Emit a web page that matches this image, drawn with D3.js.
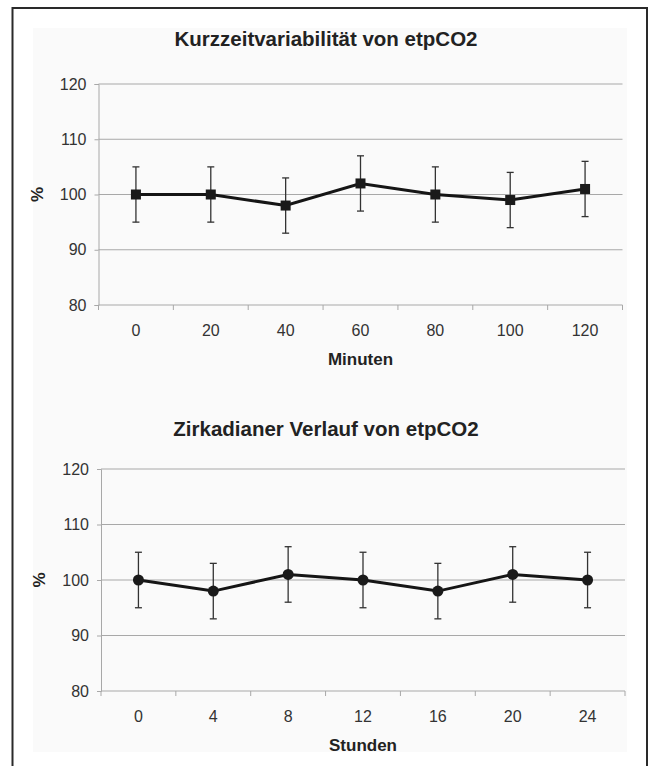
<!DOCTYPE html>
<html>
<head>
<meta charset="utf-8">
<script src="https://cdn.jsdelivr.net/npm/d3@7/dist/d3.min.js"></script>
<style>
  html, body { margin: 0; padding: 0; background: #ffffff; }
  svg { display: block; font-family: "Liberation Sans", Arial, sans-serif; }
</style>
</head>
<body>
<svg id="chart" width="653" height="766"></svg>
<script>
// Short-term variability (minutes)
const minutenCategories = ["0", "20", "40", "60", "80", "100", "120"];
const minutenMean = [100, 100, 98, 102, 100, 99, 101];
const minutenSD = [5, 5, 5, 5, 5, 5, 5];

// Circadian course (hours)
const stundenCategories = ["0", "4", "8", "12", "16", "20", "24"];
const stundenMean = [100, 98, 101, 100, 98, 101, 100];
const stundenSD = [5, 5, 5, 5, 5, 5, 5];

const yTicks = [80, 90, 100, 110, 120];

const titles = ["Kurzzeitvariabilität von etpCO2", "Zirkadianer Verlauf von etpCO2"];
const xTitles = ["Minuten", "Stunden"];
const yTitle = "%";

const svg = d3.select("#chart");

// page frame and light panel
svg.append("rect").attr("x", 33).attr("y", 28).attr("width", 594).attr("height", 724)
  .attr("fill", "#fafafa");
svg.append("path")
  .attr("d", "M12.5,766 V8 H647 V766")
  .attr("fill", "none").attr("stroke", "#2a2a2a").attr("stroke-width", 2);

function drawChart(cfg) {
  const g = svg.append("g");
  const x = d3.scaleBand().domain(cfg.categories).range([cfg.left, cfg.right]).padding(0);
  const y = d3.scaleLinear().domain([80, 120]).range([cfg.bottom, cfg.top]);

  // horizontal gridlines
  g.selectAll("line.grid").data(yTicks.filter(t => t > 80)).join("line")
    .attr("x1", cfg.left).attr("x2", cfg.right)
    .attr("y1", d => y(d)).attr("y2", d => y(d))
    .attr("stroke", "#a8a8a8").attr("stroke-width", 1);

  // y axis
  const yAxis = g.append("g").attr("transform", `translate(${cfg.left},0)`)
    .call(d3.axisLeft(y).tickValues(yTicks).tickSize(4).tickPadding(8));
  yAxis.select(".domain").attr("stroke", "#a8a8a8");
  yAxis.selectAll(".tick line").attr("stroke", "#a8a8a8");
  yAxis.selectAll(".tick text").attr("fill", "#333").attr("font-size", 16)
    .attr("font-family", "Liberation Sans, Arial, sans-serif");

  // x axis: ticks at band boundaries, labels at band centers
  const xAxisG = g.append("g").attr("transform", `translate(0,${cfg.bottom})`);
  xAxisG.append("line").attr("x1", cfg.left).attr("x2", cfg.right)
    .attr("stroke", "#a8a8a8");
  const bounds = cfg.categories.map(c => x(c)).concat([x(cfg.categories[cfg.categories.length - 1]) + x.bandwidth()]);
  xAxisG.selectAll("line.tk").data(bounds).join("line")
    .attr("x1", d => d).attr("x2", d => d).attr("y1", 0).attr("y2", 5)
    .attr("stroke", "#a8a8a8");
  xAxisG.selectAll("text").data(cfg.categories).join("text")
    .attr("x", d => x(d) + x.bandwidth() / 2).attr("y", 31)
    .attr("text-anchor", "middle").attr("fill", "#333").attr("font-size", 16)
    .text(d => d);

  const cx = d => x(d) + x.bandwidth() / 2;
  const pts = cfg.categories.map((c, i) => ({ c, m: cfg.mean[i], s: cfg.sd[i] }));

  // error bars
  const eb = g.selectAll("g.eb").data(pts).join("g");
  eb.append("line").attr("x1", d => cx(d.c)).attr("x2", d => cx(d.c))
    .attr("y1", d => y(d.m - d.s)).attr("y2", d => y(d.m + d.s))
    .attr("stroke", "#333").attr("stroke-width", 1.3);
  [-1, 1].forEach(sgn => {
    eb.append("line").attr("x1", d => cx(d.c) - 3.5).attr("x2", d => cx(d.c) + 3.5)
      .attr("y1", d => y(d.m + sgn * d.s)).attr("y2", d => y(d.m + sgn * d.s))
      .attr("stroke", "#333").attr("stroke-width", 1.3);
  });

  // mean line
  g.append("path").datum(pts)
    .attr("d", d3.line().x(d => cx(d.c)).y(d => y(d.m)))
    .attr("fill", "none").attr("stroke", "#151515").attr("stroke-width", 3);

  // markers
  if (cfg.marker === "square") {
    g.selectAll("rect.mk").data(pts).join("rect")
      .attr("x", d => cx(d.c) - 5).attr("y", d => y(d.m) - 5)
      .attr("width", 10).attr("height", 10).attr("fill", "#1a1a1a");
  } else {
    g.selectAll("circle.mk").data(pts).join("circle")
      .attr("cx", d => cx(d.c)).attr("cy", d => y(d.m)).attr("r", 5.5)
      .attr("fill", "#1a1a1a");
  }

  // titles
  g.append("text").attr("x", 326).attr("y", cfg.titleY).attr("text-anchor", "middle")
    .attr("font-weight", "bold").attr("font-size", 20.5).attr("fill", "#222").text(cfg.title);
  g.append("text").attr("x", (cfg.left + cfg.right) / 2).attr("y", cfg.bottom + 60)
    .attr("text-anchor", "middle").attr("font-weight", "bold").attr("font-size", 17)
    .attr("fill", "#222").text(cfg.xTitle);
  g.append("text")
    .attr("transform", `translate(${cfg.left - 56},${(cfg.top + cfg.bottom) / 2}) rotate(-90)`)
    .attr("text-anchor", "middle").attr("font-weight", "bold").attr("font-size", 17)
    .attr("fill", "#222").text(yTitle);
}

drawChart({
  categories: minutenCategories, mean: minutenMean, sd: minutenSD,
  left: 98.5, right: 622.5, top: 84, bottom: 305, marker: "square",
  title: titles[0], xTitle: xTitles[0], titleY: 46
});
drawChart({
  categories: stundenCategories, mean: stundenMean, sd: stundenSD,
  left: 101, right: 625, top: 469, bottom: 691, marker: "circle",
  title: titles[1], xTitle: xTitles[1], titleY: 436
});
</script>
</body>
</html>
